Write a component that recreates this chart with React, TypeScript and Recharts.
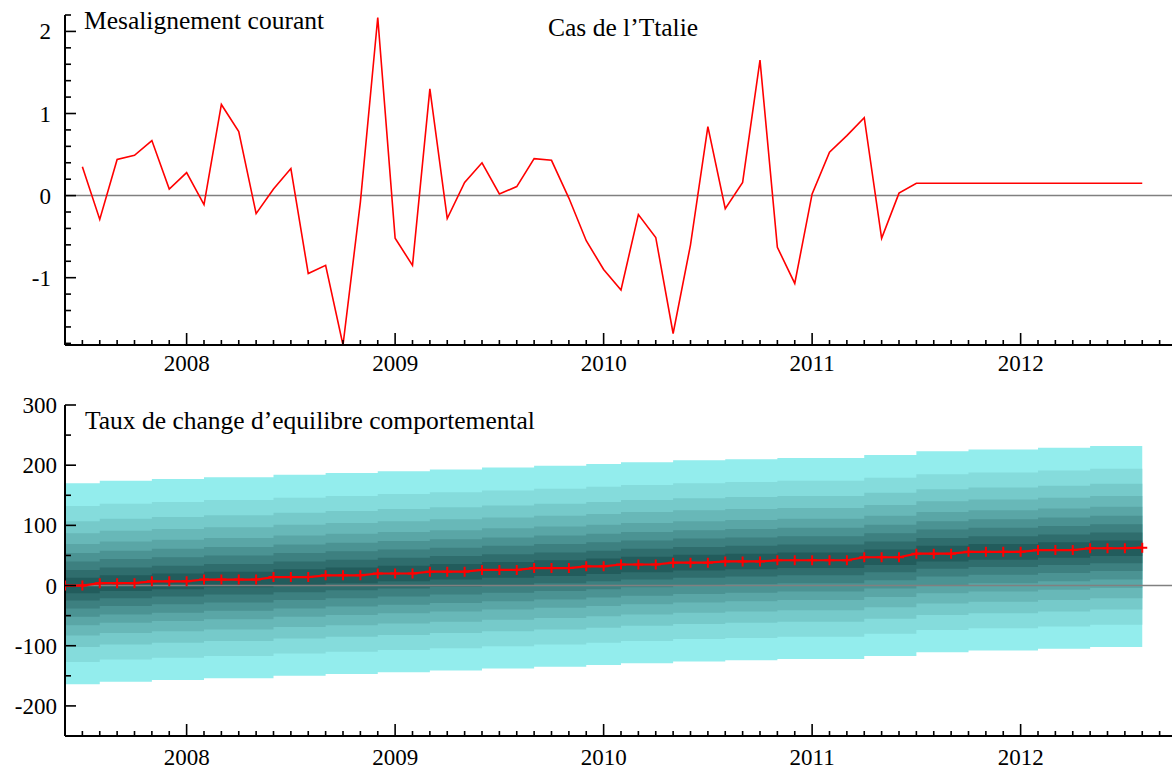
import { LineChart, Line, ComposedChart, Area, XAxis, YAxis, ReferenceLine } from 'recharts'

// monthly observations, first one is 2007 M7
const MIS_START = 2007 + 6 / 12
const MISALIGNMENT = [
  0.35, -0.29, 0.44, 0.49, 0.67, 0.08, 0.28, -0.11, 1.11, 0.78,
  -0.22, 0.08, 0.33, -0.95, -0.85, -1.82, -0.08, 2.17, -0.52, -0.85,
  1.3, -0.28, 0.16, 0.4, 0.02, 0.11, 0.45, 0.43, -0.03, -0.55,
  -0.9, -1.15, -0.23, -0.51, -1.68, -0.6, 0.84, -0.16, 0.16, 1.65,
  -0.63, -1.07, 0.02, 0.53, 0.73, 0.95, -0.52, 0.03, 0.15, 0.15,
  0.15, 0.15, 0.15, 0.15, 0.15, 0.15, 0.15, 0.15, 0.15, 0.15, 0.15, 0.15,
]

// behavioural equilibrium path, first one is 2007 M6
const EQ_START = 2007 + 5 / 12
const EQ_MEAN = [
  0, 0, 4, 4, 4, 7, 7, 7, 10, 10, 10, 10, 14, 14, 14, 17, 17, 17,
  20, 20, 20, 23, 23, 23, 26, 26, 26, 29, 29, 29, 32, 32, 35, 35, 35,
  38, 38, 38, 40, 40, 40, 42, 42, 42, 42, 42, 47, 47, 47, 53, 53, 53,
  56, 56, 56, 56, 59, 59, 59, 62, 62, 62, 63,
]

// fan bands, outer to inner
const BAND_UP = [170, 132, 107, 87, 69, 54, 40, 26, 13]
const BAND_DOWN = [164, 127, 102, 83, 66, 52, 38, 25, 13]
const BAND_COLORS = [
  '#93eded', '#85dcdc', '#76caca', '#68b8b8', '#5aa6a6',
  '#4b9393', '#3d8080', '#2f6d6d', '#225c5c',
]

const YEARS = [2008, 2009, 2010, 2011, 2012]
const TOP_Y_LABELS = [-1, 0, 1, 2]
const BOTTOM_Y_LABELS = [-200, -100, 0, 100, 200, 300]

const X_MIN = 2007 + 5 / 12
const X_MAX = 2012.75
const FONT = '"Liberation Serif", "Times New Roman", serif'

const monthTicks: number[] = []
for (let m = 6; m <= 68; m++) monthTicks.push(2007 + m / 12)

const topYTicks: number[] = []
for (let k = -9; k <= 11; k++) topYTicks.push(k / 5)

const bottomYTicks: number[] = []
for (let k = -5; k <= 6; k++) bottomYTicks.push(k * 50)

const topData = MISALIGNMENT.map((v, i) => ({ t: MIS_START + i / 12, v }))

const bottomData = EQ_MEAN.map((m, i) => {
  const row: Record<string, any> = { t: EQ_START + i / 12, m }
  BAND_UP.forEach((u, k) => {
    row['b' + k] = [m - BAND_DOWN[k], m + u]
  })
  return row
})

function isWhole(v: number) {
  return Math.abs(v - Math.round(v)) < 1e-6
}

function XTick(props: any, labelDy: number) {
  const { x, y, payload } = props
  const major = isWhole(payload.value)
  return (
    <g>
      <line x1={x} x2={x} y1={y} y2={y - (major ? 12 : 5)} stroke="#000" strokeWidth={1.6} />
      {major && YEARS.includes(Math.round(payload.value)) && (
        <text x={x} y={y + labelDy} textAnchor="middle" fontSize={23} fontFamily={FONT} fill="#000">
          {Math.round(payload.value)}
        </text>
      )}
    </g>
  )
}

function YTick(props: any, labels: number[], labelX: number) {
  const { x, y, payload } = props
  const v = payload.value
  const major = labels.some((l) => Math.abs(l - v) < 1e-6)
  return (
    <g>
      <line x1={x} x2={x + (major ? 11 : 6)} y1={y} y2={y} stroke="#000" strokeWidth={1.6} />
      {major && (
        <text x={labelX} y={y + 8} textAnchor="end" fontSize={23} fontFamily={FONT} fill="#000">
          {Math.round(v)}
        </text>
      )}
    </g>
  )
}

function PlusDot(props: any) {
  const { cx, cy, index } = props
  if (cx == null || cy == null) return <g key={index} />
  return (
    <path
      key={index}
      d={`M${cx - 5},${cy}H${cx + 5}M${cx},${cy - 5}V${cy + 5}`}
      stroke="#ff0000"
      strokeWidth={2}
      fill="none"
    />
  )
}

export default function App() {
  return (
    <div style={{ position: 'absolute', left: 0, top: 0, width: 1172, height: 772, overflow: 'hidden', background: '#fff' }}>
      {/* Mesalignement courant */}
      <div style={{ position: 'absolute', left: 0, top: 0 }}>
        <LineChart width={1180} height={380} data={topData} margin={{ top: 15, right: 3, left: 0, bottom: 0 }}>
          <XAxis
            dataKey="t"
            type="number"
            domain={[X_MIN, X_MAX]}
            allowDataOverflow
            ticks={monthTicks}
            interval={0}
            tickSize={0}
            tickMargin={0}
            tickLine={false}
            tick={(p: any) => XTick(p, 26)}
            axisLine={{ stroke: '#000', strokeWidth: 2 }}
            height={35}
          />
          <YAxis
            type="number"
            domain={[-1.82, 2.2]}
            allowDataOverflow
            ticks={topYTicks}
            interval={0}
            tickSize={0}
            tickMargin={0}
            tickLine={false}
            tick={(p: any) => YTick(p, TOP_Y_LABELS, 51)}
            axisLine={{ stroke: '#000', strokeWidth: 2 }}
            width={65}
          />
          <ReferenceLine y={0} stroke="#808080" strokeWidth={1.5} />
          <Line
            dataKey="v"
            type="linear"
            stroke="#ff0000"
            strokeWidth={1.6}
            dot={false}
            isAnimationActive={false}
          />
        </LineChart>
      </div>

      {/* Taux de change d'equilibre comportemental */}
      <div style={{ position: 'absolute', left: 0, top: 380 }}>
        <ComposedChart width={1180} height={392} data={bottomData} margin={{ top: 25, right: 3, left: 0, bottom: 0 }}>
          <XAxis
            dataKey="t"
            type="number"
            domain={[X_MIN, X_MAX]}
            allowDataOverflow
            ticks={monthTicks}
            interval={0}
            tickSize={0}
            tickMargin={0}
            tickLine={false}
            tick={(p: any) => XTick(p, 29)}
            axisLine={{ stroke: '#000', strokeWidth: 2 }}
            height={36}
          />
          <YAxis
            type="number"
            domain={[-250, 300]}
            allowDataOverflow
            ticks={bottomYTicks}
            interval={0}
            tickSize={0}
            tickMargin={0}
            tickLine={false}
            tick={(p: any) => YTick(p, BOTTOM_Y_LABELS, 57)}
            axisLine={{ stroke: '#000', strokeWidth: 2 }}
            width={65}
          />
          <ReferenceLine y={0} stroke="#808080" strokeWidth={1.5} />
          {BAND_COLORS.map((c, k) => (
            <Area
              key={k}
              dataKey={'b' + k}
              type="stepAfter"
              fill={c}
              fillOpacity={1}
              stroke="none"
              isAnimationActive={false}
            />
          ))}
          <Line
            dataKey="m"
            type="linear"
            stroke="#ff0000"
            strokeWidth={2.2}
            dot={PlusDot}
            isAnimationActive={false}
          />
        </ComposedChart>
      </div>

      <svg width={1172} height={772} style={{ position: 'absolute', left: 0, top: 0, pointerEvents: 'none' }}>
        <text x={84} y={29} fontSize={25.5} fontFamily={FONT} fill="#000">Mesalignement courant</text>
        <text x={548} y={36} fontSize={25.5} fontFamily={FONT} fill="#000">Cas de l’Ttalie</text>
        <text x={85} y={429} fontSize={25.5} fontFamily={FONT} fill="#000">Taux de change d’equilibre comportemental</text>
      </svg>
    </div>
  )
}
